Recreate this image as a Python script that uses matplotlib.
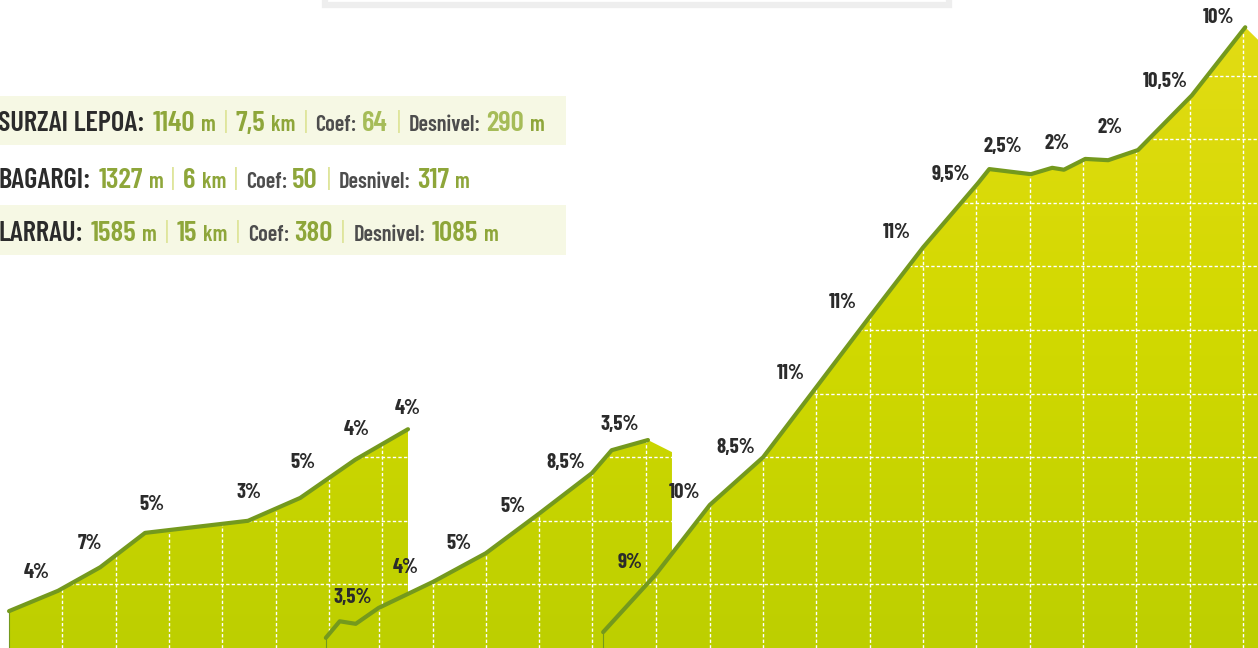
import numpy as np
import matplotlib
matplotlib.use('Agg')
import matplotlib.pyplot as plt
from matplotlib.patches import Polygon, Rectangle
from matplotlib.colors import LinearSegmentedColormap

# ---- profile data: km from the start of each climb, height in m above the chart floor
gurzai_start = 0.17
gurzai_km = [0, 0.92, 1.71, 2.55, 4.48, 5.46, 6.49, 7.48]
gurzai_m = [58, 90, 127, 181, 200, 236, 296, 344]
gurzai_grades = ['4%', '7%', '5%', '3%', '5%', '4%', '4%']
gurzai_grade_km = [0.51, 1.52, 2.68, 4.5, 5.51, 6.51, 7.48]
gurzai_grade_m = [118, 165, 226, 245, 291, 343, 377]

bagargi_start = 6.11
bagargi_km = [0, 0.26, 0.56, 0.99, 2.01, 3.0, 4.01, 4.99, 5.36, 6.04]
bagargi_m = [16, 42, 38, 63, 104, 149, 212, 275, 311, 327]
bagargi_tail_km = [6.49]
bagargi_tail_m = [308]
bagargi_grades = ['3,5%', '4%', '5%', '5%', '8,5%', '3,5%']
bagargi_grade_km = [0.51, 1.5, 2.49, 3.51, 4.5, 5.51]
bagargi_grade_m = [80, 127, 164, 223, 291, 352]

larrau_start = 11.31
larrau_km = [0, 0.98, 2.0, 3.0, 3.96, 4.99, 6.0, 7.03, 7.24, 8.02, 8.42, 8.64,
             9.04, 9.47, 10.03, 11.04, 12.04]
larrau_m = [25, 115, 225, 300, 406, 520, 630, 731, 753, 745, 755, 752,
            769, 767, 783, 869, 976]
larrau_tail_km = [12.6]
larrau_tail_m = [930]
larrau_grades = ['9%', '10%', '8,5%', '11%', '11%', '11%', '9,5%', '2,5%', '2%', '2%',
                 '10,5%', '10%']
larrau_grade_km = [0.51, 1.52, 2.49, 3.51, 4.5, 5.51, 6.51, 7.5, 8.51, 9.51, 10.54, 11.53]
larrau_grade_m = [134, 244, 316, 432, 544, 653, 744, 788, 794, 818, 890, 991]

# ---- info table
names = ['SURZAI LEPOA:', 'BAGARGI:', 'LARRAU:']
altitudes = ['1140', '1327', '1585']
lengths = ['7,5', '6', '15']
coefs = ['64', '50', '380']
desnivels = ['290', '317', '1085']

W, H = 1258, 648
KM_PX, M_PX = 53.33, 0.636

line_col = '#74991d'
txt_col = '#2b2b2b'
olive = '#8ea63a'
fill_cmap = LinearSegmentedColormap.from_list('fill', ['#bdcf00', '#d2d900', '#e4dc16'])

fam = ['Barlow Condensed', 'DejaVu Sans']

fig = plt.figure(figsize=(W / 100, H / 100), dpi=100)
ax = fig.add_axes([0, 0, 1, 1])
xmax, ymax = W / KM_PX, H / M_PX
grad = np.linspace(0, 1, 256).reshape(-1, 1)

profiles = [
    (gurzai_start, gurzai_km, gurzai_m, [], [], gurzai_grades, gurzai_grade_km, gurzai_grade_m),
    (bagargi_start, bagargi_km, bagargi_m, bagargi_tail_km, bagargi_tail_m,
     bagargi_grades, bagargi_grade_km, bagargi_grade_m),
    (larrau_start, larrau_km, larrau_m, larrau_tail_km, larrau_tail_m,
     larrau_grades, larrau_grade_km, larrau_grade_m),
]

for i, (x0, km, m, tkm, tm, grades, gkm, gm) in enumerate(profiles):
    z = 2 + i * 5
    xs = x0 + np.array(km)
    all_x = list(xs) + [x0 + k for k in tkm]
    all_y = list(m) + list(tm)
    verts = [(x0, 0)] + list(zip(all_x, all_y)) + [(all_x[-1], 0)]
    poly = Polygon(verts, closed=True, facecolor='none', edgecolor='none',
                   transform=ax.transData)
    ax.add_patch(poly)
    im = ax.imshow(grad, extent=[0, xmax, 0, ymax], origin='lower', cmap=fill_cmap,
                   aspect='auto', zorder=z, interpolation='bilinear')
    im.set_clip_path(poly)
    # dotted white grid, 1 km by 100 m
    for k in np.arange(1, all_x[-1] - x0, 1.0):
        gl, = ax.plot([x0 + k, x0 + k], [0, ymax], color='white', lw=1.0,
                      dashes=(2.4, 1.6), zorder=z + 1)
        gl.set_clip_path(poly)
    for h in np.arange(100, ymax, 100):
        gl, = ax.plot([x0, all_x[-1]], [h, h], color='white', lw=1.0,
                      dashes=(2.4, 1.6), zorder=z + 1)
        gl.set_clip_path(poly)
    ax.plot([x0, x0], [0, m[0]], color=line_col, lw=0.8, zorder=z + 2)
    ax.plot(xs, m, color=line_col, lw=3.0, solid_capstyle='round',
            solid_joinstyle='round', zorder=z + 2)
    for g, k, h in zip(grades, gkm, gm):
        ax.text(x0 + k, h, g, ha='center', va='center', fontsize=15,
                fontweight='bold', color=txt_col, family=fam, zorder=z + 3)

ax.set_xlim(0, xmax)
ax.set_ylim(0, ymax)
ax.axis('off')

# overlay in pixel units for the table and the box at the top
ov = fig.add_axes([0, 0, 1, 1], zorder=20)
ov.set_xlim(0, W)
ov.set_ylim(H, 0)
ov.axis('off')
ov.patch.set_alpha(0)

ov.add_patch(Rectangle((325, -20), 624, 25, facecolor='white', edgecolor='#eeeeee', lw=4.5))

ov.add_patch(Rectangle((0, 96), 566, 49, facecolor='#f6f8e4', edgecolor='none'))
ov.add_patch(Rectangle((0, 205), 566, 50, facecolor='#f6f8e4', edgecolor='none'))

renderer = fig.canvas.get_renderer()
row_y = [121, 178, 231]
sep_col = '#dfe59c'
gray = '#4d4d4d'
big, small = 21, 16
for r in range(3):
    light = olive if r else '#a6bc58'
    pieces = [
        (names[r], txt_col, 20.5, 'semibold', 8),
        (altitudes[r], olive, big, 'semibold', 6),
        ('m', olive, small, 'semibold', 8),
        ('|', sep_col, 19, 'normal', 8),
        (lengths[r], olive, big, 'semibold', 6),
        ('km', olive, small, 'semibold', 8),
        ('|', sep_col, 19, 'normal', 8),
        ('Coef:', gray, small, 'semibold', 5),
        (coefs[r], light, big, 'semibold', 9),
        ('|', sep_col, 19, 'normal', 8),
        ('Desnivel:', gray, small, 'semibold', 6),
        (desnivels[r], light, big, 'semibold', 6),
        ('m', olive, small, 'semibold', 0),
    ]
    x = -2
    for s, c, fs, fw, gap in pieces:
        t = ov.text(x, row_y[r] + 10, s, ha='left', va='baseline', fontsize=fs,
                    fontweight=fw, color=c, family=fam)
        x += t.get_window_extent(renderer=renderer).width + gap

fig.savefig('out.png', dpi=100)
